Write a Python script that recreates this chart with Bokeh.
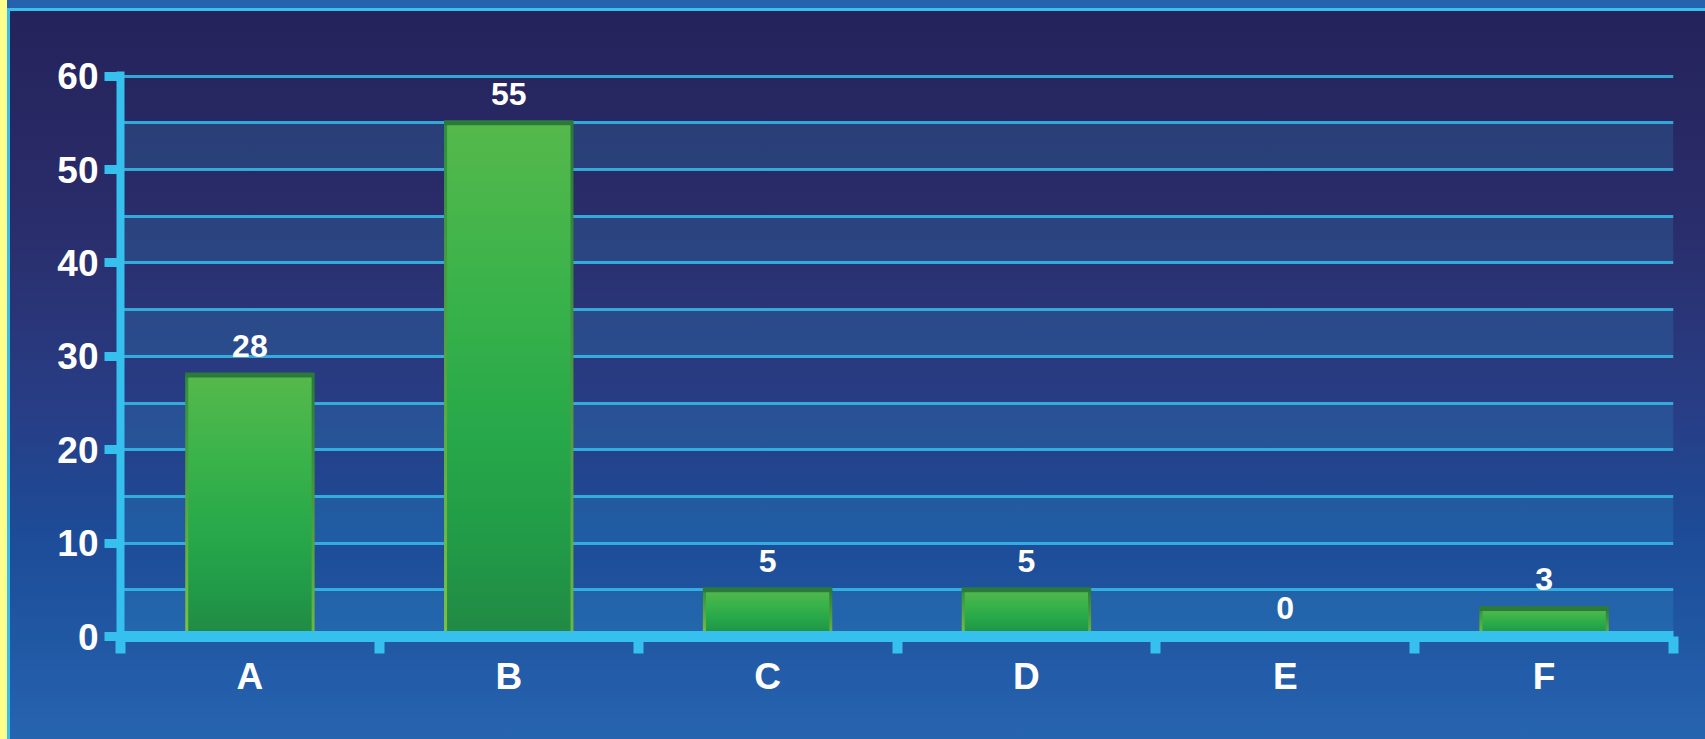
import numpy as np
from bokeh.plotting import figure
from bokeh.models import Range1d, FixedTicker, BoxAnnotation
from bokeh.core.properties import value
from bokeh.embed import file_html
from bokeh.resources import INLINE

# ---- data ----
categories = ["A", "B", "C", "D", "E", "F"]
counts = [28, 55, 5, 5, 0, 3]
y_ticks = [0, 10, 20, 30, 40, 50, 60]
grid_steps = [0, 5, 10, 15, 20, 25, 30, 35, 40, 45, 50, 55, 60]

# ---- styling helpers ----
CYAN = "#36c0ee"
FONT = "Liberation Sans"


def hex2rgb(h):
    return np.array([int(h[i:i + 2], 16) for i in (1, 3, 5)], dtype=float)


def lerp(stops, t):
    for (t0, c0), (t1, c1) in zip(stops[:-1], stops[1:]):
        if t0 <= t <= t1:
            f = 0 if t1 == t0 else (t - t0) / (t1 - t0)
            return hex2rgb(c0) * (1 - f) + hex2rgb(c1) * f
    return hex2rgb(stops[-1][1])


fill_stops = [(0.0, "#218a45"), (0.17, "#229a48"), (0.38, "#27a84a"),
              (0.7, "#3cb44b"), (1.0, "#56b94b")]
left_edge = [(0.0, "#7dc142"), (1.0, "#2f8f3f")]
right_edge = [(0.0, "#6cb845"), (1.0, "#2a7a3a")]

H, W = 200, 43
img = np.zeros((H, W), dtype=np.uint32)
view = img.view(dtype=np.uint8).reshape((H, W, 4))
for r in range(H):
    t = r / (H - 1)  # row 0 = bottom
    view[r, :, :3] = lerp(fill_stops, t).astype(np.uint8)
    view[r, 0, :3] = lerp(left_edge, t).astype(np.uint8)
    view[r, W - 1, :3] = lerp(right_edge, t).astype(np.uint8)
    view[r, :, 3] = 255

# ---- figure ----
p = figure(width=1705, height=739, output_backend="svg", toolbar_location=None,
           x_range=Range1d(0, len(categories)), y_range=Range1d(0, 60.5),
           min_border_left=120, min_border_right=32, min_border_top=71,
           min_border_bottom=103)
p.background_fill_alpha = 0
p.border_fill_alpha = 0
p.outline_line_color = None
p.styles = {
    "background": (
        "linear-gradient(#ffff8c,#ffff8c) 0 0 / 7px 100% no-repeat, "
        "linear-gradient(#2561ad,#2561ad) 7px 0 / 100% 8px no-repeat, "
        "linear-gradient(#36c0ee,#36c0ee) 7px 8px / 100% 3px no-repeat, "
        "linear-gradient(#36c0ee,#36c0ee) 7px 8px / 3px 100% no-repeat, "
        "linear-gradient(to bottom, #24225a 0%, #2a2d6b 30%, #283d85 55%, "
        "#1d4b97 72%, #2159a5 88%, #2764b0 100%)"
    )
}

# alternating bands: [0,5], [10,15], ... [50,55]
for b in grid_steps[0:-1:2]:
    p.add_layout(BoxAnnotation(bottom=b, top=b + 5, fill_color=CYAN, fill_alpha=0.15,
                               line_color=None, level="underlay"))

# grid
p.xgrid.visible = False
p.ygrid.ticker = FixedTicker(ticks=grid_steps)
p.ygrid.grid_line_color = "#36bdea"
p.ygrid.grid_line_width = 3
p.ygrid.grid_line_alpha = 0.85
p.ygrid.band_fill_alpha = 0

# bars
xs = np.arange(len(categories)) + 0.5
bar_w = 0.5
bx = [x for x, c in zip(xs, counts) if c > 0]
bv = [c for c in counts if c > 0]
p.image_rgba(image=[img] * len(bv), x=[x - bar_w / 2 for x in bx], y=[0] * len(bv),
             dw=[bar_w] * len(bv), dh=bv)
p.segment(x0=[x - bar_w / 2 for x in bx], x1=[x + bar_w / 2 for x in bx], y0=bv, y1=bv,
          line_color="#2b7a3c", line_width=5)

# value labels
p.text(x=xs, y=counts, text=[str(c) for c in counts], text_align="center",
       text_baseline="alphabetic", y_offset=-29, text_font=value(FONT),
       text_font_style="bold", text_font_size="32px", text_color="white")

# y axis
ya = p.yaxis[0]
ya.ticker = FixedTicker(ticks=y_ticks)
ya.axis_line_color = CYAN
ya.axis_line_width = 8
ya.major_tick_line_color = CYAN
ya.major_tick_line_width = 9
ya.major_tick_out = 16
ya.major_tick_in = 0
ya.minor_tick_line_color = None
ya.major_label_text_font = FONT
ya.major_label_text_font_style = "bold"
ya.major_label_text_font_size = "37px"
ya.major_label_text_color = "white"
ya.major_label_standoff = 6

# x axis
xa = p.xaxis[0]
xa.ticker = FixedTicker(ticks=list(xs), minor_ticks=list(range(len(categories) + 1)))
xa.major_label_overrides = {float(x): c for x, c in zip(xs, categories)}
xa.axis_line_color = CYAN
xa.axis_line_width = 11
xa.major_tick_line_alpha = 0
xa.major_tick_out = 17
xa.major_tick_in = 0
xa.minor_tick_line_color = CYAN
xa.minor_tick_line_width = 10
xa.minor_tick_out = 17
xa.minor_tick_in = 0
xa.major_label_text_font = FONT
xa.major_label_text_font_style = "bold"
xa.major_label_text_font_size = "37px"
xa.major_label_text_color = "white"
xa.major_label_standoff = 2

open("out.html", "w").write(file_html(p, INLINE))
